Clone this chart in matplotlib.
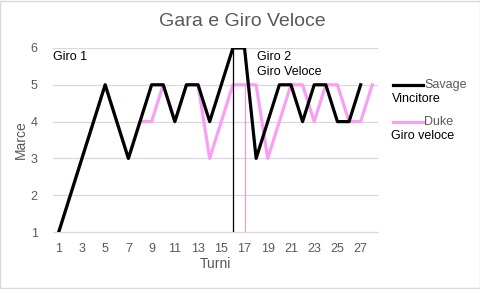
import matplotlib.pyplot as plt
from matplotlib.lines import Line2D

plt.rcParams['font.family'] = ['Liberation Sans', 'DejaVu Sans']

# dati
turni_savage = list(range(1, 28))
marce_savage = [1, 2, 3, 4, 5, 4, 3, 4, 5, 5, 4, 5, 5, 4, 5, 6, 6, 3, 4, 5, 5, 4, 5, 5, 4, 4, 5]
turni_duke = list(range(1, 29))
marce_duke = [1, 2, 3, 4, 5, 4, 3, 4, 4, 5, 4, 5, 5, 3, 4, 5, 5, 5, 3, 4, 5, 5, 4, 5, 5, 4, 4, 5]
x_ticks = list(range(1, 28, 2))
y_ticks = [1, 2, 3, 4, 5, 6]
giro_savage = 16  # giro veloce Savage
giro_duke = 17    # giro veloce Duke

grigio = '#595959'
rosa = '#f7a0f5'

fig = plt.figure(figsize=(4.81, 2.89), dpi=100)
ax = fig.add_axes([0.110, 0.197, 0.676, 0.637])

ax.plot(turni_duke, marce_duke, color=rosa, lw=2.3, zorder=3)
ax.plot(turni_savage, marce_savage, color='black', lw=2.3, zorder=4)

# linee verticali dei giri veloci
ax.plot([giro_savage, giro_savage], [1, 6], color='black', lw=0.9, zorder=5)
ax.plot([giro_duke, giro_duke], [1, 5], color='#f0a0c8', lw=0.9, zorder=2)

ax.set_xlim(0.5, 28.5)
ax.set_ylim(1, 6)
ax.set_xticks(x_ticks)
ax.set_yticks(y_ticks)
ax.grid(axis='y', color='#d9d9d9', lw=0.9)
ax.set_axisbelow(True)
for s in ['top', 'right', 'left']:
    ax.spines[s].set_visible(False)
ax.spines['bottom'].set_color('#d9d9d9')
ax.tick_params(length=0, labelsize=9, colors=grigio, pad=8)
ax.tick_params(axis='y', pad=11)

ax.set_xlabel('Turni', fontsize=10, color=grigio, labelpad=1)
ax.set_ylabel('Marce', fontsize=10, color=grigio, labelpad=2)
fig.text(0.503, 0.927, 'Gara e Giro Veloce', fontsize=14, color=grigio,
         ha='center', va='center')

ax.text(0.55, 5.76, 'Giro 1', fontsize=9, color='black', va='center')
ax.text(18.1, 5.76, 'Giro 2', fontsize=9, color='black', va='center')
ax.text(18.1, 5.35, 'Giro Veloce', fontsize=9, color='black', va='center')

# legenda a mano
fig.add_artist(Line2D([0.818, 0.880], [0.705, 0.705], color='black', lw=2.3))
fig.text(0.882, 0.705, 'Savage', fontsize=9, color=grigio, va='center')
fig.text(0.815, 0.657, 'Vincitore', fontsize=9, color='black', va='center')
fig.add_artist(Line2D([0.818, 0.880], [0.578, 0.578], color=rosa, lw=2.3))
fig.text(0.882, 0.578, 'Duke', fontsize=9, color=grigio, va='center')
fig.text(0.812, 0.529, 'Giro veloce', fontsize=9, color='black', va='center')

# cornice
fig.add_artist(plt.Rectangle((0.001, 0.002), 0.997, 0.995, fill=False,
                             edgecolor='#d9d9d9', lw=1, transform=fig.transFigure))

fig.savefig('out.png', dpi=100)
